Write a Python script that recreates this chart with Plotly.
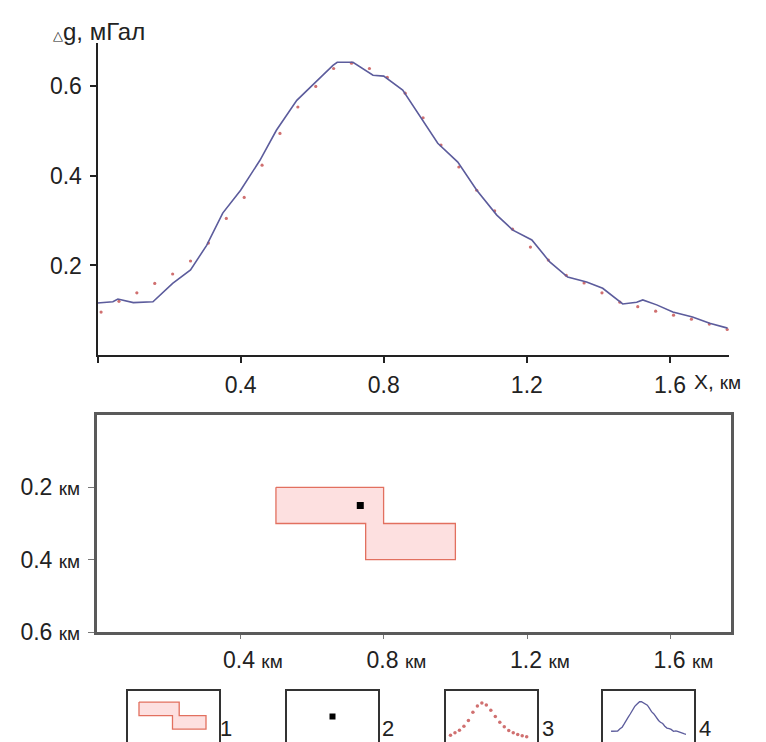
import plotly.graph_objects as go

# ---- data ----
# observed gravity anomaly (dots), x in km, dg in mGal
obs_x = [0.01, 0.06, 0.11, 0.16, 0.21, 0.26, 0.31, 0.36, 0.41, 0.46, 0.51, 0.56,
         0.61, 0.66, 0.71, 0.76, 0.81, 0.86, 0.91, 0.96, 1.01, 1.06, 1.11, 1.16,
         1.21, 1.26, 1.31, 1.36, 1.41, 1.46, 1.51, 1.56, 1.61, 1.66, 1.71, 1.76]
obs_y = [0.096, 0.120, 0.139, 0.160, 0.181, 0.210, 0.250, 0.305, 0.352, 0.424, 0.495, 0.554,
         0.600, 0.640, 0.652, 0.640, 0.620, 0.585, 0.530, 0.469, 0.420, 0.368, 0.322, 0.281,
         0.241, 0.212, 0.178, 0.161, 0.139, 0.118, 0.108, 0.098, 0.089, 0.080, 0.069, 0.057]

# computed curve (line)
calc_x = [0.0, 0.043, 0.057, 0.10, 0.155, 0.21, 0.26, 0.305, 0.35, 0.40, 0.454, 0.50,
          0.557, 0.60, 0.658, 0.67, 0.714, 0.77, 0.80, 0.853, 0.90, 0.951, 1.007, 1.06,
          1.116, 1.161, 1.214, 1.264, 1.314, 1.367, 1.412, 1.468, 1.507, 1.524, 1.563,
          1.608, 1.663, 1.711, 1.761]
calc_y = [0.116, 0.119, 0.125, 0.117, 0.119, 0.160, 0.190, 0.245, 0.317, 0.368, 0.435, 0.502,
          0.569, 0.603, 0.647, 0.654, 0.654, 0.625, 0.623, 0.592, 0.536, 0.473, 0.431, 0.368,
          0.3125, 0.279, 0.257, 0.208, 0.174, 0.163, 0.149, 0.114, 0.118, 0.123, 0.112,
          0.096, 0.085, 0.071, 0.060]

# body outline (x km, depth km)
body_x = [0.50, 0.80, 0.80, 1.00, 1.00, 0.75, 0.75, 0.50, 0.50]
body_z = [0.20, 0.20, 0.30, 0.30, 0.40, 0.40, 0.30, 0.30, 0.20]
# point source
pt_x = [0.735]
pt_z = [0.25]

x_ticks = [0.4, 0.8, 1.2, 1.6]
y_ticks = [0.2, 0.4, 0.6]
z_ticks = [0.2, 0.4, 0.6]
legend_labels = ["1", "2", "3", "4"]

# ---- layout helpers (pixels -> paper) ----
W, H = 766, 742
def fx(px):
    return min(1.0, max(0.0, px / W))
def fy(py):
    return min(1.0, max(0.0, 1 - py / H))

FONT = "Liberation Sans, Arial, sans-serif"
INK = "#222222"
LINE_C = "#5c5c9c"
DOT_C = "#d07070"
BODY_FILL = "#fde0e0"
BODY_LINE = "#e2705f"
KM = "<span style='font-size:19px'>км</span>"

fig = go.Figure()

# top plot
fig.add_trace(go.Scatter(x=obs_x, y=obs_y, mode="markers",
                         marker=dict(color=DOT_C, size=3.2), xaxis="x", yaxis="y"))
fig.add_trace(go.Scatter(x=calc_x, y=calc_y, mode="lines",
                         line=dict(color=LINE_C, width=1.6), xaxis="x", yaxis="y"))

# bottom section
fig.add_trace(go.Scatter(x=body_x, y=body_z, mode="lines", fill="toself",
                         fillcolor=BODY_FILL, line=dict(color=BODY_LINE, width=1.3),
                         xaxis="x2", yaxis="y2"))
fig.add_trace(go.Scatter(x=pt_x, y=pt_z, mode="markers",
                         marker=dict(color="black", size=7, symbol="square"),
                         xaxis="x2", yaxis="y2"))

# legend icons
fig.add_trace(go.Scatter(x=body_x, y=body_z, mode="lines", fill="toself",
                         fillcolor=BODY_FILL, line=dict(color=BODY_LINE, width=1.3),
                         xaxis="x3", yaxis="y3"))
fig.add_trace(go.Scatter(x=pt_x, y=pt_z, mode="markers",
                         marker=dict(color="black", size=6, symbol="square"),
                         xaxis="x4", yaxis="y4"))
fig.add_trace(go.Scatter(x=obs_x[::2], y=obs_y[::2], mode="markers",
                         marker=dict(color=DOT_C, size=3.5), xaxis="x5", yaxis="y5"))
fig.add_trace(go.Scatter(x=calc_x, y=calc_y, mode="lines",
                         line=dict(color=LINE_C, width=1.3), xaxis="x6", yaxis="y6"))

tickfont = dict(family=FONT, size=23, color=INK)

layout = dict(
    width=W, height=H, margin=dict(l=0, r=0, t=0, b=0, autoexpand=False),
    paper_bgcolor="white", plot_bgcolor="white", showlegend=False,
    font=dict(family=FONT, color=INK),
    xaxis=dict(domain=[fx(97.5), fx(729)], range=[0, 1.765], anchor="y",
               tickvals=[0] + x_ticks, ticktext=[""] + [str(v) for v in x_ticks],
               showline=True, linecolor=INK, linewidth=2, ticks="outside",
               ticklen=6, tickwidth=1.5, tickcolor=INK, showgrid=False, zeroline=False,
               tickfont=tickfont, ticklabelstandoff=2, automargin=False),
    yaxis=dict(domain=[fy(355), fy(43)], range=[0, 0.697], anchor="x",
               tickvals=y_ticks, ticktext=[str(v) for v in y_ticks],
               showline=True, linecolor=INK, linewidth=2, ticks="outside",
               ticklen=6, tickwidth=1.5, tickcolor=INK, showgrid=False, zeroline=False,
               tickfont=tickfont, ticklabelstandoff=3, automargin=False),
    xaxis2=dict(domain=[fx(96.5), fx(731)], range=[0, 1.768], anchor="y2",
                tickvals=x_ticks,
                ticktext=["\u00a0" * 4 + str(v) + " " + KM for v in x_ticks],
                showline=True, mirror=True, linecolor="#5a5a5a", linewidth=2.5,
                ticks="outside", ticklen=4, tickwidth=1, tickcolor="#777777",
                showgrid=False, zeroline=False, tickfont=tickfont, ticklabelstandoff=2,
                automargin=False),
    yaxis2=dict(domain=[fy(632), fy(415)], range=[0.6, 0.0], anchor="x2",
                tickvals=z_ticks, ticktext=[str(v) + " " + KM for v in z_ticks],
                showline=True, mirror=True, linecolor="#5a5a5a", linewidth=2.5,
                ticks="outside", ticklen=6, tickwidth=1, tickcolor="#777777",
                showgrid=False, zeroline=False, tickfont=tickfont, ticklabelstandoff=3,
                automargin=False),
)

# legend icon boxes: (left px, right px, x range, y range)
icon_boxes = [
    (128, 219, [0.418, 1.097], [0.496, 0.118]),
    (287, 378, [0.50, 0.97], [0.40, 0.10]),
    (446, 537, [-0.09, 1.94], [-0.02, 0.86]),
    (603, 694, [-0.19, 1.95], [-0.08, 0.85]),
]
for i, (l, r, xr, yr) in enumerate(icon_boxes):
    n = i + 3
    common = dict(showline=True, mirror=True, linecolor="#333333", linewidth=1.5,
                  ticks="", showticklabels=False, showgrid=False, zeroline=False,
                  automargin=False)
    layout[f"xaxis{n}"] = dict(domain=[fx(l), fx(r)], range=xr, anchor=f"y{n}", **common)
    layout[f"yaxis{n}"] = dict(domain=[fy(742), fy(691)], range=yr, anchor=f"x{n}", **common)

fig.update_layout(**layout)

annotations = [
    dict(text="<span style='font-size:13px'>△</span>g, мГал", x=fx(51), y=fy(31),
         xref="paper", yref="paper", xanchor="left", yanchor="middle", showarrow=False,
         font=dict(family=FONT, size=24, color=INK)),
    dict(text="X, " + KM, x=fx(692), y=fy(381), xref="paper", yref="paper",
         xanchor="left", yanchor="middle", showarrow=False,
         font=dict(family=FONT, size=21, color=INK)),
]
label_pos = [226, 388, 548, 705]
for lab, px in zip(legend_labels, label_pos):
    annotations.append(dict(text=lab, x=fx(px), y=fy(728), xref="paper", yref="paper",
                            xanchor="center", yanchor="middle", showarrow=False,
                            font=dict(family=FONT, size=22, color=INK)))
fig.update_layout(annotations=annotations)

fig.write_html("out.html")
